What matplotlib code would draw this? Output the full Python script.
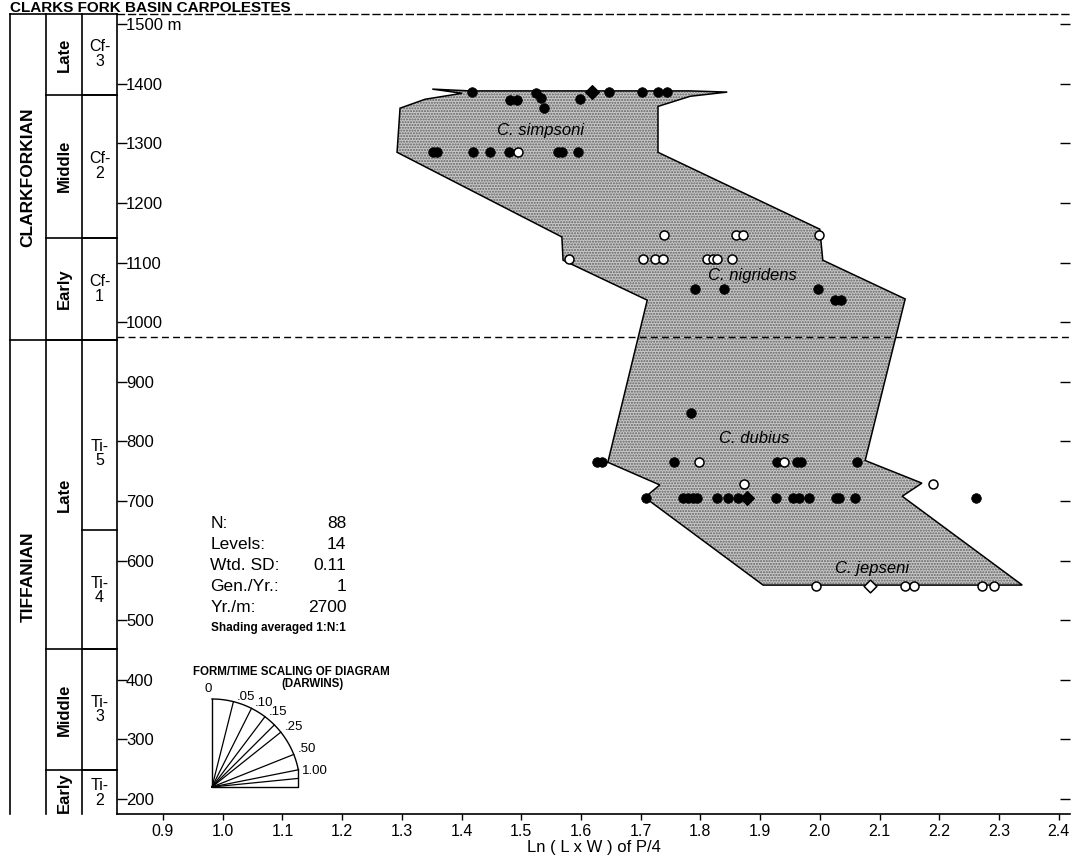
import matplotlib
matplotlib.use('Agg')
import matplotlib.pyplot as plt
import numpy as np
from matplotlib.transforms import blended_transform_factory
from matplotlib.patches import Polygon

plt.rcParams['font.family'] = ['Liberation Sans', 'DejaVu Sans']
narrow = ['Liberation Sans Narrow', 'Liberation Sans', 'DejaVu Sans']

W, H = 1072, 858

# shaded envelope (ln size, meters)
shade_x = [1.297, 1.339, 1.401, 1.351, 1.414, 1.783, 1.845, 1.783, 1.729, 1.729,
           2.000, 2.005, 2.143, 2.076, 2.171, 2.138, 2.339, 1.905, 1.707, 1.732,
           1.645, 1.711, 1.570, 1.568, 1.292]
shade_y = [1359, 1374, 1384, 1391, 1388, 1388, 1386, 1379, 1362, 1285,
           1156, 1104, 1039, 768, 730, 708, 559, 559, 706, 727,
           765, 1037, 1104, 1143, 1285]

# specimens
filled_x = [1.418, 1.481, 1.493, 1.525, 1.533, 1.538, 1.598, 1.647, 1.702, 1.729, 1.744,
            1.352, 1.359, 1.419, 1.448, 1.480, 1.562, 1.568, 1.595,
            1.791, 1.840, 1.997, 2.025, 2.035,
            1.784,
            1.627, 1.635, 1.756, 1.928, 1.962, 1.969, 2.062,
            1.709, 1.771, 1.779, 1.788, 1.794, 1.828, 1.846, 1.863, 1.927, 1.955,
            1.965, 1.982, 2.027, 2.032, 2.059, 2.262]
filled_y = [1386, 1372, 1372, 1384, 1376, 1359, 1374, 1386, 1386, 1386, 1386,
            1285, 1285, 1285, 1285, 1285, 1285, 1285, 1285,
            1055, 1055, 1055, 1037, 1037,
            847,
            765, 765, 765, 765, 765, 765, 765,
            705, 705, 705, 705, 705, 705, 705, 705, 705, 705,
            705, 705, 705, 705, 705, 705]
open_x = [1.495,
          1.739, 1.860, 1.871, 1.999,
          1.580, 1.704, 1.724, 1.737, 1.811, 1.821, 1.828, 1.853,
          1.798, 1.940,
          1.873, 2.190,
          1.994, 2.143, 2.158, 2.272, 2.292]
open_y = [1285,
          1146, 1146, 1146, 1146,
          1106, 1106, 1106, 1106, 1106, 1106, 1106, 1106,
          765, 765,
          728, 728,
          557, 557, 557, 557, 557]
diam_filled_x = [1.619, 1.878]
diam_filled_y = [1386, 705]
diam_open_x = [2.084]
diam_open_y = [557]

species = ['C. simpsoni', 'C. nigridens', 'C. dubius', 'C. jepseni']
species_x = [1.532, 1.887, 1.890, 2.088]
species_y = [1322, 1079, 805, 587]

x_ticks = [0.9, 1.0, 1.1, 1.2, 1.3, 1.4, 1.5, 1.6, 1.7, 1.8, 1.9, 2.0, 2.1, 2.2, 2.3, 2.4]
y_ticks = [200, 300, 400, 500, 600, 700, 800, 900, 1000, 1100, 1200, 1300, 1400, 1500]
y_labels = [str(t) for t in y_ticks[:-1]] + ['1500 m']

# stratigraphic column
epochs = ['CLARKFORKIAN', 'TIFFANIAN']
epoch_bounds = [(970, 1517), (175, 970)]
stages = ['Late', 'Middle', 'Early', 'Late', 'Middle', 'Early']
stage_bounds = [(1381, 1517), (1142, 1381), (970, 1142), (451, 970), (248, 451), (175, 248)]
zones = ['Cf-\n3', 'Cf-\n2', 'Cf-\n1', 'Ti-\n5', 'Ti-\n4', 'Ti-\n3', 'Ti-\n2']
zone_bounds = [(1381, 1517), (1142, 1381), (970, 1142), (651, 970), (451, 651), (248, 451), (175, 248)]
zone_label_y = [1450, 1262, 1056, 780, 550, 350, 210]

stats_names = ['N:', 'Levels:', 'Wtd. SD:', 'Gen./Yr.:', 'Yr./m:']
stats_values = ['88', '14', '0.11', '1', '2700']

darwins = [0.05, 0.10, 0.15, 0.20, 0.25, 0.50, 1.00, 2.00]
darwin_labels = ['.05', '.10', '.15', '', '.25', '.50', '1.00', '']

fig = plt.figure(figsize=(W / 100, H / 100), dpi=100)
ax = fig.add_axes([117 / W, 1 - 814 / H, 953 / W, 800 / H])
ax.set_xlim(0.823, 2.419)
ax.set_ylim(175, 1517)

env = Polygon(np.column_stack([shade_x, shade_y]), closed=True, facecolor='#c8c8c8',
              edgecolor='#606060', lw=0, hatch='......', zorder=1)
ax.add_patch(env)
ax.add_patch(Polygon(np.column_stack([shade_x, shade_y]), closed=True, fill=False,
                     edgecolor='black', lw=1.1, zorder=2))

ax.axhline(975, color='black', lw=1, ls=(0, (5, 3)), zorder=1)

ax.scatter(filled_x, filled_y, s=48, c='black', edgecolors='black', lw=0.5, zorder=4)
ax.scatter(open_x, open_y, s=42, facecolors='white', edgecolors='black', lw=1.1, zorder=4)
ax.scatter(diam_filled_x, diam_filled_y, s=48, marker='D', c='black', zorder=4)
ax.scatter(diam_open_x, diam_open_y, s=42, marker='D', facecolors='white',
           edgecolors='black', lw=1.1, zorder=4)

for name, sx, sy in zip(species, species_x, species_y):
    ax.text(sx, sy, name, style='italic', fontsize=12, ha='center', va='center', zorder=5)

# stats box
for i, (nm, val) in enumerate(zip(stats_names, stats_values)):
    yy = 663 - i * 35.5
    ax.text(0.979, yy, nm, fontsize=12.5, ha='left', va='center')
    ax.text(1.207, yy, val, fontsize=12.5, ha='right', va='center')
ax.text(0.98, 487, 'Shading averaged 1:N:1', fontsize=8.5, fontweight='bold',
        ha='left', va='center')

# axes styling
ax.spines['right'].set_visible(False)
ax.spines['top'].set_linestyle((0, (5, 3)))
ax.spines['top'].set_linewidth(1)
ax.spines['left'].set_linewidth(1.2)
ax.spines['bottom'].set_linewidth(1.2)
ax.set_xticks(x_ticks)
ax.set_xticklabels(['%.1f' % t for t in x_ticks], family=narrow, fontsize=11.5)
ax.tick_params(axis='x', direction='out', length=4, width=1, pad=3)
ax.set_yticks(y_ticks)
ax.set_yticklabels(y_labels, fontsize=12)
ax.yaxis.set_ticks_position('both')
ax.tick_params(axis='y', direction='in', length=7, width=1, pad=-6.5)
for lab in ax.get_yticklabels():
    lab.set_horizontalalignment('left')
ax.set_xlabel('Ln ( L x W ) of P/4', family=narrow, fontsize=12, labelpad=1)

# stratigraphic column
trans = blended_transform_factory(fig.transFigure, ax.transData)
cx = [10 / W, 46 / W, 82 / W, 117 / W]
kw = dict(color='black', lw=1.2, transform=trans, clip_on=False)
for x in cx[:3]:
    ax.plot([x, x], [175, 1517], **kw)
ax.plot([cx[0], cx[3]], [1517, 1517], **kw)
for (lo, hi), name in zip(epoch_bounds, epochs):
    if lo > 175:
        ax.plot([cx[0], cx[3]], [lo, lo], **kw)
    ax.text((cx[0] + cx[1]) / 2, (lo + hi) / 2, name, rotation=90, ha='center',
            va='center', fontsize=12.5, fontweight='bold', transform=trans)
for (lo, hi), name in zip(stage_bounds, stages):
    if lo > 175:
        ax.plot([cx[1], cx[3]], [lo, lo], **kw)
    ax.text((cx[1] + cx[2]) / 2, (lo + hi) / 2, name, rotation=90, ha='center',
            va='center', fontsize=12, fontweight='bold', transform=trans)
for (lo, hi), name, ly in zip(zone_bounds, zones, zone_label_y):
    if lo > 175:
        ax.plot([cx[2], cx[3]], [lo, lo], **kw)
    ax.text((cx[2] + cx[3]) / 2, ly, name, ha='center', va='center', fontsize=11.5,
            linespacing=0.95, transform=trans)

# darwin fan
fan = fig.add_axes([212 / W, 1 - 787 / H, 88 / W, 88 / H])
fan.set_xlim(0, 1)
fan.set_ylim(0, 1)
fan.axis('off')
xr = 0.98
th = np.linspace(np.arccos(xr), np.pi / 2, 100)
fan.plot(np.cos(th), np.sin(th), color='black', lw=1, clip_on=False)
fan.plot([0, 0, xr, xr], [1, 0, 0, np.sin(np.arccos(xr))], color='black', lw=1, clip_on=False)
fan.text(-0.04, 1.04, '0', fontsize=9.5, ha='center', va='bottom')
for d, lab in zip(darwins, darwin_labels):
    ang = np.arctan(5.02 * d)
    ex, ey = np.sin(ang), np.cos(ang)
    if ex > xr:
        ex, ey = xr, xr / np.tan(ang)
    fan.plot([0, ex], [0, ey], color='black', lw=0.9, clip_on=False)
    if lab:
        fan.text(ex + 0.04, ey - 0.01, lab, fontsize=9.5, ha='left',
                 va='center' if lab == '1.00' else 'bottom')
fig.text(291 / W, 1 - 672 / H, 'FORM/TIME SCALING OF DIAGRAM', fontsize=8.3,
         fontweight='bold', ha='center', va='center')
fig.text(313 / W, 1 - 684 / H, '(DARWINS)', fontsize=8.3, fontweight='bold',
         ha='center', va='center')

fig.text(10 / W, 1 - 11.5 / H, 'CLARKS FORK BASIN CARPOLESTES', fontsize=11,
         fontweight='bold', ha='left', va='baseline')

fig.savefig('out.png', dpi=100)
